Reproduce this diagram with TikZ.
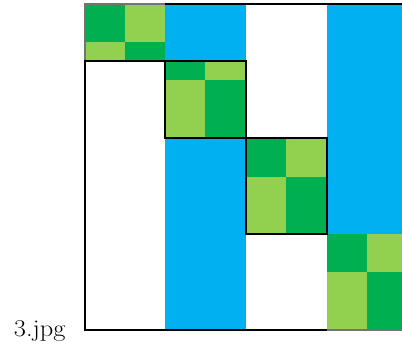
\documentclass[tikz,border=0pt]{standalone}
\definecolor{dgreen}{RGB}{0,176,80}
\definecolor{lgreen}{RGB}{146,208,80}
\definecolor{sky}{RGB}{0,176,240}
\newcommand\qblk[6]{%
  \fill[dgreen] (#1,#2) rectangle (#5,#6);
  \fill[lgreen] (#5,#2) rectangle (#3,#6);
  \fill[lgreen] (#1,#6) rectangle (#5,#4);
  \fill[dgreen] (#5,#6) rectangle (#3,#4);
}
\tikzset{frameline/.style={line width=1.3pt,black},
  softline/.style={line width=1.3pt,black!55}}
\begin{document}
\begin{tikzpicture}[x=1pt,y=-1pt]
\useasboundingbox (0,0) rectangle (402,354);
% blue regions
\fill[sky] (165,4) rectangle (246,61);
\fill[sky] (165,138) rectangle (246,330);
\fill[sky] (327,4) rectangle (404,234);
% diagonal blocks
\qblk{85}{4}{165}{61}{125}{42}
\qblk{165}{61}{246}{138}{205}{80}
\qblk{246}{138}{327}{234}{286}{177}
\qblk{327}{234}{404}{330}{367}{272}
% frame
\draw[frameline] (404,4) -- (165,4);
\draw[softline] (165,4) -- (85,4) -- (85,61);
\draw[frameline] (165,61) -- (85,61) -- (85,330) -- (327,330);
\draw[softline] (327,330) -- (404,330);
\draw[frameline] (165,61) rectangle (246,138);
\draw[frameline] (246,138) rectangle (327,234);
\node[anchor=base, inner sep=0pt, font=\fontsize{24}{24}\selectfont] (cap) at (39.7,336.7) {\scalebox{1.1}[1]{3.jpg}};
\end{tikzpicture}
\end{document}
